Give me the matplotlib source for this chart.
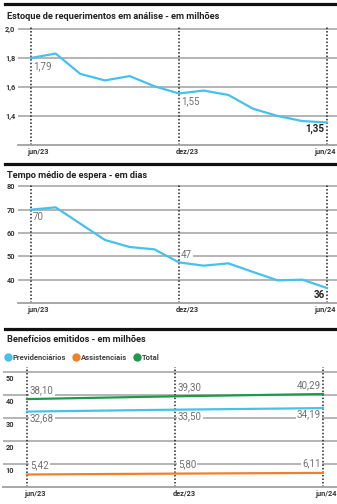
import matplotlib
matplotlib.use("Agg")
import matplotlib.pyplot as plt
import matplotlib.transforms as mtransforms
from matplotlib.lines import Line2D

# dados
meses = list(range(13))  # jun/23 ... jun/24
ticks_meses = [0, 6, 12]
rotulos_meses = ["jun/23", "dez/23", "jun/24"]

estoque = [1.80, 1.83, 1.69, 1.645, 1.675, 1.605, 1.555, 1.575, 1.545, 1.45, 1.40, 1.365, 1.355]
estoque_rotulos = ["1,79", "1,55", "1,35"]

tempo = [70, 71, 64, 57, 54, 53, 47.4, 46, 47, 43.3, 39.7, 40, 36.4]
tempo_rotulos = ["70", "47", "36"]

periodos = [0, 1, 2]
previdenciarios = [32.68, 33.50, 34.19]
assistenciais = [5.42, 5.80, 6.11]
total = [38.10, 39.30, 40.29]

W, H = 337, 504
AZUL = "#45c1ec"
LARANJA = "#f07f2a"
VERDE = "#1d9a4b"
CINZA_GRADE = "#a0a0a0"
CINZA_TEXTO = "#707070"
FONTE = ["Roboto", "DejaVu Sans"]

plt.rcParams["font.family"] = FONTE


def eixo(fig, esq, dir, topo, base):
    # coordenadas em pixels da imagem (origem no topo)
    return fig.add_axes([esq / W, 1 - base / H, (dir - esq) / W, (base - topo) / H])


def estilo(ax, yticks, ylabels, xpos, xlabels, xoffs, xhas):
    for s in ["top", "right", "left"]:
        ax.spines[s].set_visible(False)
    ax.spines["bottom"].set_color(CINZA_GRADE)
    ax.spines["bottom"].set_linewidth(1.3)
    ax.set_yticks(yticks)
    ax.set_yticklabels(ylabels)
    ax.grid(axis="y", color=CINZA_GRADE, linewidth=1.1)
    ax.set_axisbelow(True)
    ax.tick_params(length=0, labelsize=5.3, colors="#333333", pad=2)
    for lab in ax.get_yticklabels():
        lab.set_fontweight("bold")
    ax.set_xticks(xpos)
    ax.set_xticklabels(xlabels)
    for lab, dx, ha in zip(ax.get_xticklabels(), xoffs, xhas):
        lab.set_fontweight("bold")
        lab.set_ha(ha)
        lab.set_transform(lab.get_transform() + mtransforms.ScaledTranslation(dx / 100, 0, fig.dpi_scale_trans))
    for x in xpos:
        ax.axvline(x, color="#222222", linewidth=1.1, linestyle=(0, (1, 1.3)), zorder=1)


def rotulo(ax, x, y, txt, ha="left", negrito=False):
    ax.text(x, y, txt, ha=ha, va="center", fontsize=7,
            color="#222222" if negrito else CINZA_TEXTO,
            fontweight="bold" if negrito else "normal",
            bbox=dict(facecolor="white", edgecolor="none", pad=0.6), zorder=4)


fig = plt.figure(figsize=(W / 100, H / 100), dpi=100)

# separadores pretos
for y in [4, 164, 329]:
    fig.add_artist(Line2D([5 / W, 1], [1 - y / H, 1 - y / H], color="#111111", linewidth=2.3))

# --- estoque ---
fig.text(7 / W, 1 - 16 / H, "Estoque de requerimentos em análise - em milhões",
         fontsize=6.7, fontweight="bold", color="#222222", va="center")
ax1 = eixo(fig, 18, 345, 26, 145)
ax1.plot(meses, estoque, color=AZUL, linewidth=1.6, zorder=5)
ax1.set_xlim(-0.527, 12.73)
ax1.set_ylim(1.2, 2.02)
estilo(ax1, [1.4, 1.6, 1.8, 2.0], ["1,4", "1,6", "1,8", "2,0"], ticks_meses, rotulos_meses,
       [-4, -3, 9], ["left", "left", "right"])
rotulo(ax1, 0.08, 1.745, estoque_rotulos[0])
rotulo(ax1, 6.08, 1.50, estoque_rotulos[1])
rotulo(ax1, 11.9, 1.31, estoque_rotulos[2], ha="right", negrito=True)

# --- tempo ---
fig.text(7 / W, 1 - 176 / H, "Tempo médio de espera - em dias",
         fontsize=6.7, fontweight="bold", color="#222222", va="center")
ax2 = eixo(fig, 18, 345, 184, 303)
ax2.plot(meses, tempo, color=AZUL, linewidth=1.6, zorder=5)
ax2.set_xlim(-0.527, 12.73)
ax2.set_ylim(30, 81)
estilo(ax2, [40, 50, 60, 70, 80], ["40", "50", "60", "70", "80"], ticks_meses, rotulos_meses,
       [-4, -3, 9], ["left", "left", "right"])
rotulo(ax2, 0.08, 67, tempo_rotulos[0])
rotulo(ax2, 6.08, 50.5, tempo_rotulos[1])
rotulo(ax2, 11.9, 33.5, tempo_rotulos[2], ha="right", negrito=True)

# --- beneficios ---
fig.text(7 / W, 1 - 340 / H, "Benefícios emitidos - em milhões",
         fontsize=6.7, fontweight="bold", color="#222222", va="center")
handles = [Line2D([], [], marker="o", linestyle="none", color=c, markersize=5)
           for c in [AZUL, LARANJA, VERDE]]
leg = fig.legend(handles, ["Previdenciários", "Assistenciais", "Total"], ncol=3,
                 loc="center left", bbox_to_anchor=(4 / W, 1 - 357 / H), frameon=False,
                 handlelength=0.6, handletextpad=0.35, columnspacing=1.0, borderaxespad=0,
                 borderpad=0.2, prop=dict(family=FONTE, weight="bold", size=5.5))
for t in leg.get_texts():
    t.set_color("#444444")

ax3 = eixo(fig, 3, 337, 367, 487)
ax3.plot(periodos, total, color=VERDE, linewidth=1.6, zorder=5)
ax3.plot(periodos, previdenciarios, color=AZUL, linewidth=1.6, zorder=5)
ax3.plot(periodos, assistenciais, color=LARANJA, linewidth=1.6, zorder=5)
ax3.set_xlim(-0.162, 2.095)
ax3.set_ylim(0, 52)
estilo(ax3, [10, 20, 30, 40, 50], ["", "", "", "", ""], periodos, rotulos_meses,
       [-3, -2, -8], ["left", "left", "left"])
for v in [10, 20, 30, 40, 50]:
    ax3.text(0.008, v - 1.3, str(v), transform=ax3.get_yaxis_transform(), fontsize=5.3,
             fontweight="bold", color="#333333", va="top", ha="left")
for serie, dy in [(total, 3.8), (previdenciarios, -2.8), (assistenciais, 4.2)]:
    for i, v in enumerate(serie):
        txt = f"{v:.2f}".replace(".", ",")
        if i == 2:
            rotulo(ax3, 1.985, v + dy, txt, ha="right")
        else:
            rotulo(ax3, i + 0.02, v + dy, txt)

fig.savefig("out.png", dpi=100)
